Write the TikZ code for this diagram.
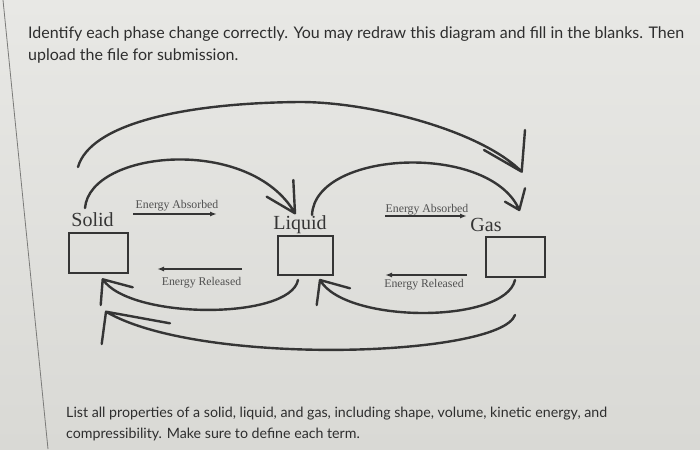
\documentclass[tikz,border=0pt]{standalone}
\usepackage{fontspec}
\setmainfont{Lato}
\newfontfamily\labelfont{Liberation Serif}
\usetikzlibrary{arrows.meta}
\definecolor{bgtop}{HTML}{E8E8E5}
\definecolor{bgbot}{HTML}{D9D9D5}
\definecolor{ink}{HTML}{353535}
\definecolor{txtcol}{HTML}{2E2E2E}
\definecolor{softink}{HTML}{505050}
\definecolor{framecol}{HTML}{7A7A78}
\tikzset{
  para/.style={anchor=base west, inner sep=0pt, text=txtcol, font=\fontsize{16}{18}\selectfont},
  parasmall/.style={anchor=base west, inner sep=0pt, text=txtcol, font=\fontsize{14.2}{16}\selectfont},
  phase/.style={anchor=base, inner sep=0pt, text=ink, font=\labelfont\fontsize{20}{22}\selectfont},
  energy/.style={anchor=base, inner sep=0pt, text=softink, font=\labelfont\fontsize{11.8}{13}\selectfont},
  blank/.style={draw=ink, line width=2pt, minimum width=59pt, minimum height=40pt, inner sep=0pt},
  conn/.style={draw=ink, line width=2.4pt, line cap=round, line join=round},
  earrow/.style={draw=ink, line width=1.8pt, -{Latex[length=7pt,width=5pt]}}
}
\begin{document}
\begin{tikzpicture}[x=1pt,y=-1pt]
\useasboundingbox (0,0) rectangle (700,449);
\shade[top color=bgtop, bottom color=bgbot] (0,0) rectangle (700,449);
\draw[framecol, line width=0.8pt] (3,0) -- (48,449);

% instructions
\node[para] (q1) at (28,39) {Identify each phase change correctly. You may redraw this diagram and fill in the blanks. Then};
\node[para] (q2) at (28,61) {upload the file for submission.};
\node[parasmall] (p1) at (66,417) {List all properties of a solid, liquid, and gas, including shape, volume, kinetic energy, and};
\node[parasmall] (p2) at (66,438) {compressibility. Make sure to define each term.};

% phase labels and blanks
\node[phase] (solid) at (92.5,226.5) {Solid};
\node[phase] (liquid) at (300,229) {Liquid};
\node[phase] (gas) at (486,231) {Gas};
\node[blank] (sbox) at (98.5,253) {};
\node[blank, minimum width=55pt, minimum height=39pt] (lbox) at (305.5,255.5) {};
\node[blank] (gbox) at (515.5,256.5) {};

% energy arrows
\node[energy] (ea1) at (177,208) {Energy Absorbed};
\node[energy] (er1) at (201.5,285) {Energy Released};
\node[energy] (ea2) at (427,212) {Energy Absorbed};
\node[energy] (er2) at (424,287) {Energy Released};
\coordinate (ea1s) at (133,214); \coordinate (ea1e) at (217,214);
\coordinate (er1s) at (242,269); \coordinate (er1e) at (157,269);
\coordinate (ea2s) at (385,216); \coordinate (ea2e) at (467,216);
\coordinate (er2s) at (467,275); \coordinate (er2e) at (385,275);
\draw[earrow] (ea1s) -- (ea1e);
\draw[earrow] (er1s) -- (er1e);
\draw[earrow] (ea2s) -- (ea2e);
\draw[earrow] (er2s) -- (er2e);

% curved phase-change connectors
\coordinate (c1s) at (78,167);   \coordinate (t1) at (521.7,171.7);
\coordinate (c2s) at (85,208);   \coordinate (t2) at (295,213.3);
\coordinate (c3s) at (312,215);  \coordinate (t3) at (519.3,210);
\coordinate (c4s) at (298,280);  \coordinate (t4) at (102.7,279.3);
\coordinate (c5s) at (515,280);  \coordinate (t5) at (320,280);
\coordinate (c6s) at (515,315);  \coordinate (t6) at (106,311.7);

\draw[conn] (c1s) .. controls (90,125) and (180,103) .. (300,102)
  .. controls (370,102) and (480,130) .. (t1) -- +(3.3,-41.7) (t1) -- +(-37.7,-21.7);
\draw[conn] (c2s) .. controls (90,150) and (250,135) .. (t2) -- +(-1.7,-33.3) (t2) -- +(-28.3,-16.6);
\draw[conn] (c3s) .. controls (315,150) and (490,142) .. (t3) -- +(5.7,-21.7) (t3) -- +(-14.3,-8.3);
\draw[conn] (c4s) .. controls (290,320) and (130,320) .. (t4) -- +(-2,25.7) (t4) -- +(30,8);
\draw[conn] (c5s) .. controls (505,324) and (345,324) .. (t5) -- +(-3.3,25) (t5) -- +(30,8.3);
\draw[conn] (c6s) .. controls (500,357) and (200,367) .. (t6) -- +(-4.3,32.3) (t6) -- +(64,11.6);
\end{tikzpicture}
\end{document}
